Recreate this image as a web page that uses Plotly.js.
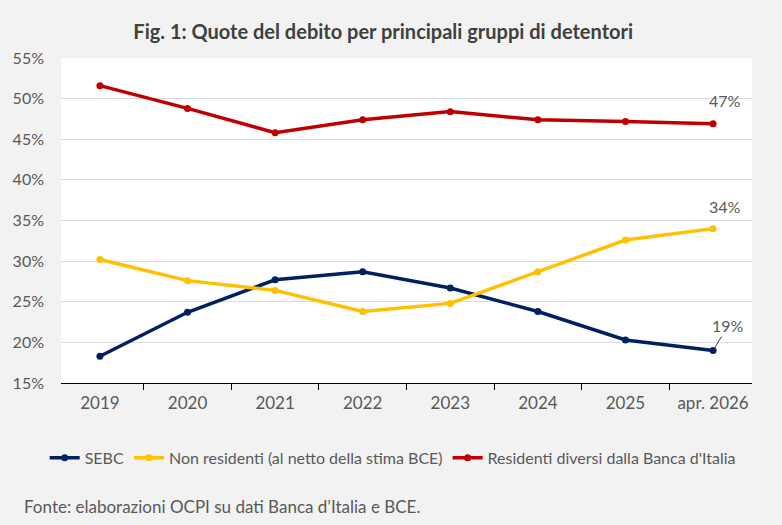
<!DOCTYPE html>
<html>
<head>
<meta charset="utf-8">
<script src="https://cdn.plot.ly/plotly-3.0.1.min.js"></script>
<style>html,body{margin:0;padding:0;background:#f2f2f2;}#chart{width:782px;height:525px;}</style>
</head>
<body>
<div id="chart"></div>
<script>
const categories = ["2019","2020","2021","2022","2023","2024","2025","apr. 2026"];
const sebc = [18.3, 23.7, 27.7, 28.7, 26.7, 23.8, 20.3, 19.0];
const nonResidenti = [30.2, 27.6, 26.4, 23.8, 24.8, 28.7, 32.6, 34.0];
const residenti = [51.6, 48.8, 45.8, 47.4, 48.4, 47.4, 47.2, 46.9];
const seriesNames = ["SEBC", "Non residenti (al netto della stima BCE)", "Residenti diversi dalla Banca d'Italia"];
const colors = ["#002060", "#FFC000", "#C00000"];
const yTicks = [15,20,25,30,35,40,45,50,55];

const font = "Lato, 'Open Sans', sans-serif";
const allSeries = [sebc, nonResidenti, residenti];
const traces = allSeries.map((vals, i) => ({
  x: categories, y: vals, name: seriesNames[i], type: "scatter", mode: "lines+markers",
  line: {color: colors[i], width: 3.5}, marker: {color: colors[i], size: 7}
}));

const last = categories[categories.length-1];
const annotations = [
  {x: last, y: residenti[residenti.length-1], text: Math.round(residenti[residenti.length-1]) + "%", showarrow: false, yshift: 23, xshift: 12, font: {family: font, size: 16, color: "#595959"}},
  {x: last, y: nonResidenti[nonResidenti.length-1], text: Math.round(nonResidenti[nonResidenti.length-1]) + "%", showarrow: false, yshift: 22, xshift: 12, font: {family: font, size: 16, color: "#595959"}},
  {x: last, y: sebc[sebc.length-1], text: Math.round(sebc[sebc.length-1]) + "%", showarrow: true, arrowhead: 0, arrowwidth: 1, arrowcolor: "#404040", ax: 15, ay: -25, standoff: 3, font: {family: font, size: 16, color: "#595959"}},
  {xref: "paper", yref: "paper", x: -0.056, y: -0.38, xanchor: "left", yanchor: "middle", text: "Fonte: elaborazioni OCPI su dati Banca d’Italia e BCE.", showarrow: false, font: {family: font, size: 17, color: "#595959"}}
];

const layout = {
  width: 782, height: 525,
  paper_bgcolor: "#f2f2f2", plot_bgcolor: "#ffffff",
  margin: {l: 61, r: 30, t: 58, b: 142, autoexpand: false},
  title: {text: "<b>Fig. 1: Quote del debito per principali gruppi di detentori</b>", font: {family: font, size: 20, color: "#404040"}, xref: "container", x: 0.49, yref: "container", y: 0.94, yanchor: "middle"},
  xaxis: {type: "category", showgrid: false, showline: true, linecolor: "#000000", linewidth: 1, ticks: "outside", tickson: "boundaries", ticklen: 6, tickcolor: "#000000", tickfont: {family: font, size: 17, color: "#595959"}, ticklabelstandoff: 5, tickangle: 0, fixedrange: true},
  yaxis: {range: [15, 55], tickvals: yTicks, ticktext: yTicks.map(v => v + "%"), showgrid: true, gridcolor: "#d9dde3", gridwidth: 1, zeroline: false, showline: false, tickfont: {family: font, size: 16, color: "#595959"}, ticklabelstandoff: 16},
  showlegend: true,
  legend: {orientation: "h", x: 0.48, xanchor: "center", y: -0.23, yanchor: "middle", font: {family: font, size: 16, color: "#595959"}, bgcolor: "rgba(0,0,0,0)", itemwidth: 30, tracegroupgap: 0},
  annotations: annotations
};

Plotly.newPlot("chart", traces, layout, {staticPlot: true});
</script>
</body>
</html>
